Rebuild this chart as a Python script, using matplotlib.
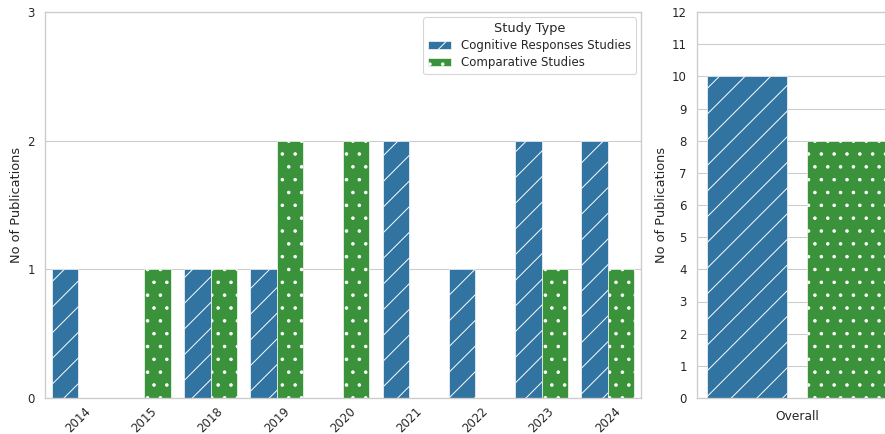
import matplotlib
matplotlib.use("Agg")
import matplotlib.pyplot as plt
import numpy as np
import seaborn as sns

# publication counts per year
years = ["2014", "2015", "2018", "2019", "2020", "2021", "2022", "2023", "2024"]
cognitive = [1, 0, 1, 1, 0, 2, 1, 2, 2]
comparative = [0, 1, 1, 2, 2, 0, 0, 1, 1]
study_types = ["Cognitive Responses Studies", "Comparative Studies"]
overall = [sum(cognitive), sum(comparative)]

BLUE = "#3274a1"
GREEN = "#3a923a"

sns.set_style("whitegrid")
plt.rcParams["font.family"] = ["DejaVu Sans"]
plt.rcParams["hatch.linewidth"] = 0.9

# the reference looks like a ~77 dpi render, that sets hatch spacing
DPI = 77
fig = plt.figure(figsize=(885 / DPI, 434 / DPI), dpi=DPI)

ax1 = fig.add_axes([45 / 885, 1 - 398 / 434, 596 / 885, 386 / 434])
ax2 = fig.add_axes([697 / 885, 1 - 398 / 434, 200 / 885, 386 / 434])

x = np.arange(len(years))
w = 0.4
ax1.bar(x - w / 2, cognitive, w, color=BLUE, edgecolor="white",
        linewidth=0.6, hatch="/", label=study_types[0])
ax1.bar(x + w / 2, comparative, w, color=GREEN, edgecolor="white",
        linewidth=0.6, hatch=".", label=study_types[1])

ax1.set_xlim(-0.5, len(years) - 0.5)
ax1.set_ylim(0, 3)
ax1.set_yticks([0, 1, 2, 3])
ax1.set_xticks(x)
ax1.set_xticklabels(years, rotation=45)
ax1.set_ylabel("No of Publications", fontsize=12, color=".15")
ax1.grid(axis="x", visible=False)

leg = ax1.legend(title="Study Type", loc="upper right", fontsize=11,
                 title_fontsize=12, frameon=True, labelspacing=0.35,
                 borderaxespad=0.45)
leg.get_frame().set_edgecolor(".8")

# overall totals panel
ax2.bar([0], [overall[0]], 0.8, color=BLUE, edgecolor="white",
        linewidth=0.6, hatch="/")
ax2.bar([1], [overall[1]], 0.8, color=GREEN, edgecolor="white",
        linewidth=0.6, hatch=".")
ax2.set_xlim(-0.5, 1.5)
ax2.set_ylim(0, 12)
ax2.set_yticks(range(0, 13))
ax2.set_xticks([0.5])
ax2.set_xticklabels(["Overall"])
ax2.set_ylabel("No of Publications", fontsize=12, color=".15")
ax2.grid(axis="x", visible=False)

for ax in (ax1, ax2):
    ax.tick_params(length=0, pad=9.5, labelsize=11, colors=".15")
    ax.grid(axis="y", color=".8", linewidth=1.0)
    for s in ax.spines.values():
        s.set_color(".8")
        s.set_linewidth(1.25)
ax1.tick_params(axis="x", pad=6)
ax2.tick_params(axis="x", labelsize=11.5, pad=11)

fig.savefig("out.png", dpi=DPI)
